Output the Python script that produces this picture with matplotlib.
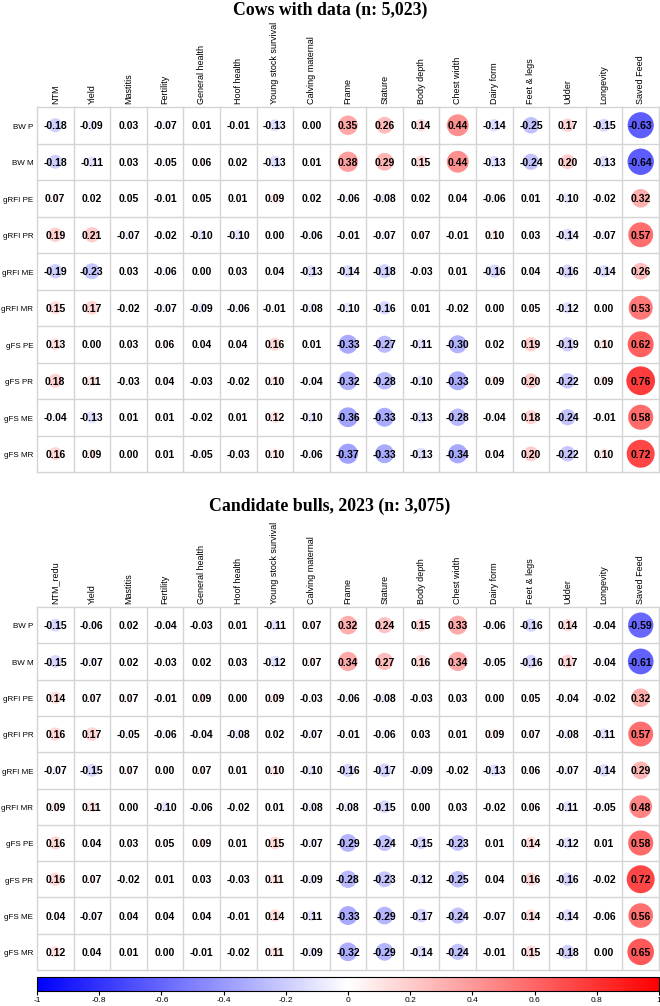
import numpy as np
import matplotlib
matplotlib.use("Agg")
import matplotlib.pyplot as plt
from matplotlib.patches import Ellipse
from matplotlib.colors import Normalize

# ── data ──────────────────────────────────────────────────────────────────────
rows = ["BW P", "BW M", "gRFI PE", "gRFI PR", "gRFI ME", "gRFI MR",
        "gFS PE", "gFS PR", "gFS ME", "gFS MR"]
cols_cows = ["NTM", "Yield", "Mastitis", "Fertility", "General health", "Hoof health",
             "Young stock survival", "Calving maternal", "Frame", "Stature", "Body depth",
             "Chest width", "Dairy form", "Feet & legs", "Udder", "Longevity", "Saved Feed"]
cols_bulls = ["NTM_redu"] + cols_cows[1:]

cows = [
    [-0.18, -0.09, 0.03, -0.07, 0.01, -0.01, -0.13, 0.00, 0.35, 0.26, 0.14, 0.44, -0.14, -0.25, 0.17, -0.15, -0.63],
    [-0.18, -0.11, 0.03, -0.05, 0.06, 0.02, -0.13, 0.01, 0.38, 0.29, 0.15, 0.44, -0.13, -0.24, 0.20, -0.13, -0.64],
    [0.07, 0.02, 0.05, -0.01, 0.05, 0.01, 0.09, 0.02, -0.06, -0.08, 0.02, 0.04, -0.06, 0.01, -0.10, -0.02, 0.32],
    [0.19, 0.21, -0.07, -0.02, -0.10, -0.10, 0.00, -0.06, -0.01, -0.07, 0.07, -0.01, 0.10, 0.03, -0.14, -0.07, 0.57],
    [-0.19, -0.23, 0.03, -0.06, 0.00, 0.03, 0.04, -0.13, -0.14, -0.18, -0.03, 0.01, -0.16, 0.04, -0.16, -0.14, 0.26],
    [0.15, 0.17, -0.02, -0.07, -0.09, -0.06, -0.01, -0.08, -0.10, -0.16, 0.01, -0.02, 0.00, 0.05, -0.12, 0.00, 0.53],
    [0.13, 0.00, 0.03, 0.06, 0.04, 0.04, 0.16, 0.01, -0.33, -0.27, -0.11, -0.30, 0.02, 0.19, -0.19, 0.10, 0.62],
    [0.18, 0.11, -0.03, 0.04, -0.03, -0.02, 0.10, -0.04, -0.32, -0.28, -0.10, -0.33, 0.09, 0.20, -0.22, 0.09, 0.76],
    [-0.04, -0.13, 0.01, 0.01, -0.02, 0.01, 0.12, -0.10, -0.36, -0.33, -0.13, -0.28, -0.04, 0.18, -0.24, -0.01, 0.58],
    [0.16, 0.09, 0.00, 0.01, -0.05, -0.03, 0.10, -0.06, -0.37, -0.33, -0.13, -0.34, 0.04, 0.20, -0.22, 0.10, 0.72],
]

bulls = [
    [-0.15, -0.06, 0.02, -0.04, -0.03, 0.01, -0.11, 0.07, 0.32, 0.24, 0.15, 0.33, -0.06, -0.16, 0.14, -0.04, -0.59],
    [-0.15, -0.07, 0.02, -0.03, 0.02, 0.03, -0.12, 0.07, 0.34, 0.27, 0.16, 0.34, -0.05, -0.16, 0.17, -0.04, -0.61],
    [0.14, 0.07, 0.07, -0.01, 0.09, 0.00, 0.09, -0.03, -0.06, -0.08, -0.03, 0.03, 0.00, 0.05, -0.04, -0.02, 0.32],
    [0.16, 0.17, -0.05, -0.06, -0.04, -0.08, 0.02, -0.07, -0.01, -0.06, 0.03, 0.01, 0.09, 0.07, -0.08, -0.11, 0.57],
    [-0.07, -0.15, 0.07, 0.00, 0.07, 0.01, 0.10, -0.10, -0.16, -0.17, -0.09, -0.02, -0.13, 0.06, -0.07, -0.14, 0.29],
    [0.09, 0.11, 0.00, -0.10, -0.06, -0.02, 0.01, -0.08, -0.08, -0.15, 0.00, 0.03, -0.02, 0.06, -0.11, -0.05, 0.48],
    [0.16, 0.04, 0.03, 0.05, 0.09, 0.01, 0.15, -0.07, -0.29, -0.24, -0.15, -0.23, 0.01, 0.14, -0.12, 0.01, 0.58],
    [0.16, 0.07, -0.02, 0.01, 0.03, -0.03, 0.11, -0.09, -0.28, -0.23, -0.12, -0.25, 0.04, 0.16, -0.16, -0.02, 0.72],
    [0.04, -0.07, 0.04, 0.04, 0.04, -0.01, 0.14, -0.11, -0.33, -0.29, -0.17, -0.24, -0.07, 0.14, -0.14, -0.06, 0.56],
    [0.12, 0.04, 0.01, 0.00, -0.01, -0.02, 0.11, -0.09, -0.32, -0.29, -0.14, -0.24, -0.01, 0.15, -0.18, 0.00, 0.65],
]

title_cows = "Cows with data (n: 5,023)"
title_bulls = "Candidate bulls, 2023 (n: 3,075)"
cbar_ticks = [-1, -0.8, -0.6, -0.4, -0.2, 0, 0.2, 0.4, 0.6, 0.8, 1]

# ── layout (pixels) ───────────────────────────────────────────────────────────
W, H = 660, 1006
SANS = "Liberation Sans"
SERIF = "Liberation Serif"
cmap = plt.get_cmap("bwr")
norm = Normalize(-1, 1)

fig = plt.figure(figsize=(W / 100, H / 100), dpi=100)


def px_axes(x0, y0, x1, y1):
    return fig.add_axes([x0 / W, 1 - y1 / H, (x1 - x0) / W, (y1 - y0) / H])


def corr_panel(top, bottom, mat, cols, title, title_y):
    mat = np.array(mat)
    nr, nc = mat.shape
    ax = px_axes(37, top, 659, bottom)
    ax.set_xlim(0, nc)
    ax.set_ylim(nr, 0)
    ax.axis("off")
    sx = (659 - 37) / nc
    sy = (bottom - top) / nr
    for i in range(nr):
        for j in range(nc):
            r = mat[i, j]
            rad = 0.45 * np.sqrt(abs(r))
            ax.add_patch(Ellipse((j + 0.5, i + 0.5), 2 * rad, 2 * rad * sx / sy,
                                 color=cmap(norm(r)), lw=0, zorder=1))
            ax.text(j + 0.5, i + 0.53, f"{r:.2f}", ha="center", va="center",
                    fontsize=7.5, fontweight="bold", family=SANS, zorder=3)
    for k in range(nc + 1):
        ax.plot([k, k], [0, nr], color="#d4d4d4", lw=1, zorder=2, clip_on=False)
    for k in range(nr + 1):
        ax.plot([0, nc], [k, k], color="#d4d4d4", lw=1, zorder=2, clip_on=False)
    for j, c in enumerate(cols):
        ax.text(j + 0.5, -0.08, c, rotation=90, ha="center", va="bottom",
                fontsize=6.5, family=SANS)
    for i, rl in enumerate(rows):
        ax.text(-0.1, i + 0.55, rl, ha="right", va="center", fontsize=5.8, family=SANS)
    fig.text(0.5, 1 - title_y / H, title, ha="center", va="center",
             fontsize=12.8, fontweight="bold", family=SERIF)


corr_panel(107, 472, cows, cols_cows, title_cows, 10)
corr_panel(607, 970, bulls, cols_bulls, title_bulls, 506)

# ── colorbar ──────────────────────────────────────────────────────────────────
cax = px_axes(37, 977, 659, 991)
cb = matplotlib.colorbar.ColorbarBase(cax, cmap=cmap, norm=norm, orientation="horizontal")
cb.set_ticks(cbar_ticks)
cb.set_ticklabels([f"{t:g}" for t in cbar_ticks])
cax.tick_params(axis="x", length=3, width=0.8, labelsize=6, pad=1.5)
for lab in cax.get_xticklabels():
    lab.set_family(SANS)
cb.outline.set_linewidth(0.8)

plt.savefig("out.png", dpi=100)
